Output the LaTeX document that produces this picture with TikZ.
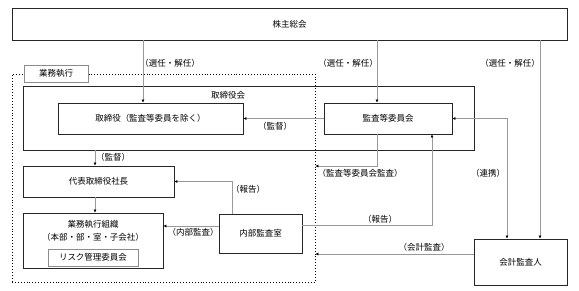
\documentclass[tikz,border=0pt]{standalone}
\usepackage{fontspec}
\setmainfont{Noto Sans CJK JP}
\usetikzlibrary{arrows.meta}

\begin{document}
\begin{tikzpicture}[
  x=1pt,y=-1pt,
  box/.style={draw=black!85, line width=0.8pt, inner sep=0pt, align=center, font=\fontsize{8.5}{10}\selectfont},
  tagbox/.style={draw=black!45, fill=white, line width=0.8pt, inner sep=0pt, align=center, font=\fontsize{8.5}{10}\selectfont},
  frame/.style={draw=black, dotted, line width=0.9pt, inner sep=0pt},
  txt/.style={inner sep=0pt, align=center, font=\fontsize{8.5}{10}\selectfont},
  lbl/.style={inner sep=0pt, font=\fontsize{8.5}{10}\selectfont},
  flow/.style={-{Latex[length=3pt,width=3pt,color=black]}, line width=0.8pt, draw=black!40},
  both/.style={{Latex[length=3pt,width=3pt,color=black]}-{Latex[length=3pt,width=3pt,color=black]}, line width=0.8pt, draw=black!40}
]
\useasboundingbox (0,0) rectangle (579,291);

\node[box, minimum width=555, minimum height=32] (gm) at (289.5,24) {株主総会};

\node[box, minimum width=451, minimum height=64] (board) at (248.5,118) {};
\node[txt] (boardtxt) at (228,95) {取締役会};
\node[box, minimum width=185, minimum height=31] (dir) at (150.5,118.5) {取締役（監査等委員を除く）};
\node[box, minimum width=128, minimum height=31] (acm) at (388,118.5) {監査等委員会};

\node[box, minimum width=151, minimum height=31] (ceo) at (98.5,181.5) {代表取締役社長};
\node[box, minimum width=140, minimum height=55] (org) at (93,240.5) {};
\node[txt] (orgtxt) at (93,231) {業務執行組織\\[3pt]（本部・部・室・子会社）};
\node[tagbox, minimum width=90, minimum height=17] (risk) at (93,257.5) {リスク管理委員会};
\node[box, minimum width=83, minimum height=39] (ia) at (260.5,233.5) {内部監査室};
\node[box, minimum width=93, minimum height=46] (aud) at (520.5,262) {会計監査人};

% business execution frame
\node[frame, minimum width=303, minimum height=208] (exec) at (163.5,178) {};
\node[tagbox, minimum width=64, minimum height=17] (exectag) at (56,73.5) {業務執行};

% appointment
\draw[flow] ([xshift=-7.5pt]dir.north |- gm.south) -- ([xshift=-7.5pt]dir.north);
\draw[flow] ([xshift=-11pt]acm.north |- gm.south) -- ([xshift=-11pt]acm.north);
\draw[flow] ([xshift=19.5pt]aud.north |- gm.south) -- ([xshift=19.5pt]aud.north);
\node[lbl] at (170,63) {（選任・解任）};
\node[lbl] at (348,63) {（選任・解任）};
\node[lbl] at (510,63) {（選任・解任）};

% supervision and audit
\draw[flow] (acm.west) -- (dir.east);
\node[lbl] at (275,126) {（監督）};
\draw[both] (acm.east) -| ([xshift=-13.5pt]aud.north);
\node[lbl] at (488,173) {（連携）};
\draw[flow] ([xshift=-11pt]acm.south) |- ([yshift=12pt]exec.east);
\node[lbl] at (360,173) {（監査等委員会監査）};
\draw[flow] ([yshift=8.5pt]ia.east) -| ([xshift=44pt]acm.south);
\node[lbl] at (380,219) {（報告）};
\draw[flow] ([yshift=8pt]aud.west) -- ([yshift=8pt]aud.west -| exec.east);
\node[lbl] at (424,247) {（会計監査）};

% execution side
\draw[flow] ([xshift=-3.5pt]ceo.north |- board.south) -- ([xshift=-3.5pt]ceo.north);
\node[lbl] at (113,157) {（監督）};
\draw[flow] ([xshift=-3.5pt]ceo.south) -- ([xshift=-3.5pt]ceo.south |- org.north);
\draw[flow] ([yshift=7.5pt]ia.west) -- ([yshift=7.5pt]ia.west -| org.east);
\node[lbl] at (193,232) {（内部監査）};
\draw[flow] ([xshift=-28.5pt]ia.north) |- (ceo.east);
\node[lbl] at (248,189) {（報告）};
\end{tikzpicture}
\end{document}
